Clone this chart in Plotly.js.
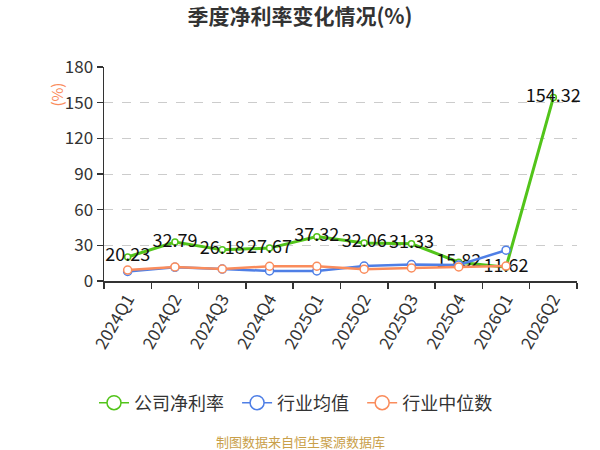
<!DOCTYPE html>
<html>
<head>
<meta charset="utf-8">
<script src="https://cdn.plot.ly/plotly-3.0.1.min.js"></script>
<style>html,body{margin:0;padding:0;background:#fff;}#chart{width:600px;height:450px;}</style>
</head>
<body>
<div id="chart"></div>
<script>
var categories = ["2024Q1","2024Q2","2024Q3","2024Q4","2025Q1","2025Q2","2025Q3","2025Q4","2026Q1","2026Q2"];
var companyNetMargin = [20.23, 32.79, 26.18, 27.67, 37.32, 32.06, 31.33, 15.82, 11.62, 154.32];
var industryMean = [8.0, 11.5, 10.0, 8.5, 8.5, 12.6, 13.8, 13.5, 25.9, null];
var industryMedian = [9.2, 11.8, 10.1, 12.4, 12.4, 9.9, 11.0, 11.8, 12.6, null];
var seriesNames = ["公司净利率", "行业均值", "行业中位数"];
var yTicks = [0, 30, 60, 90, 120, 150, 180];

var green = "#52c41a", blue = "#4f7fe6", orange = "#fa8c5c";
var font = '"Noto Sans CJK SC", "Noto Sans", sans-serif';

var traces = [
  {x: categories, y: companyNetMargin, name: seriesNames[0], type: 'scatter', mode: 'lines+markers+text',
   text: companyNetMargin.map(function(v){ return v.toFixed(2); }), textposition: 'middle center',
   textfont: {family: font, size: 18, color: '#111'},
   line: {color: green, width: 3}, marker: {symbol: 'circle', size: 6, color: '#fff', line: {color: green, width: 1.5}},
   showlegend: false, cliponaxis: false},
  {x: categories, y: industryMean, name: seriesNames[1], type: 'scatter', mode: 'lines+markers',
   line: {color: blue, width: 2.5}, marker: {symbol: 'circle', size: 8, color: '#fff', line: {color: blue, width: 1.5}},
   showlegend: false},
  {x: categories, y: industryMedian, name: seriesNames[2], type: 'scatter', mode: 'lines+markers',
   line: {color: orange, width: 2.5}, marker: {symbol: 'circle', size: 8, color: '#fff', line: {color: orange, width: 1.5}},
   showlegend: false}
];
// legend-only entries
[green, blue, orange].forEach(function(c, i){
  traces.push({x: [null], y: [null], name: seriesNames[i] + '\u00a0\u00a0', type: 'scatter', mode: 'lines+markers',
    line: {color: c, width: 1.5}, marker: {symbol: 'circle', size: 14, color: '#fff', line: {color: c, width: 1.5}},
    showlegend: true});
});

var layout = {
  width: 600, height: 450,
  margin: {l: 104, r: 23, t: 67, b: 169},
  paper_bgcolor: '#fff', plot_bgcolor: '#fff',
  font: {family: font, color: '#333'},
  title: {text: '<b>季度净利率变化情况(%)</b>', x: 0.5, xanchor: 'center', y: 0.962, yanchor: 'middle',
          font: {family: font, size: 21, color: '#333'}},
  xaxis: {type: 'category', range: [-0.5, 9.5], showgrid: false, zeroline: false,
          showline: true, linecolor: '#333', linewidth: 1.5,
          ticks: 'outside', tickson: 'boundaries', ticklen: 6, tickcolor: '#333', tickwidth: 1.5,
          tickangle: -60, tickfont: {family: font, size: 17, color: '#333'}},
  yaxis: {range: [0, 180], tickvals: yTicks, ticktext: yTicks.map(String), showgrid: true,
          gridcolor: '#cccccc', griddash: 'dash', gridwidth: 1, zeroline: false,
          showline: true, linecolor: '#333', linewidth: 1.5,
          ticks: 'outside', ticklen: 6, tickcolor: '#333', tickwidth: 1.5,
          tickfont: {family: font, size: 17, color: '#333'}},
  legend: {orientation: 'h', xref: 'container', yref: 'container', x: 0.5, xanchor: 'center',
           y: 1 - 403/450, yanchor: 'middle',
           font: {family: font, size: 18, color: '#333'}, tracegroupgap: 0},
  annotations: [
    {text: '(%)', xref: 'paper', yref: 'paper', x: -0.1, y: 0.87, xanchor: 'center', yanchor: 'middle',
     textangle: -90, showarrow: false, font: {family: font, size: 15, color: orange}},
    {text: '制图数据来自恒生聚源数据库', xref: 'paper', yref: 'paper', x: (300 - 104) / 473, y: (280.7 - 441) / 213.7,
     xanchor: 'center', yanchor: 'middle', showarrow: false, font: {family: font, size: 13, color: '#c9a04a'}}
  ]
};

Plotly.newPlot('chart', traces, layout, {displayModeBar: false, staticPlot: true});
</script>
</body>
</html>
